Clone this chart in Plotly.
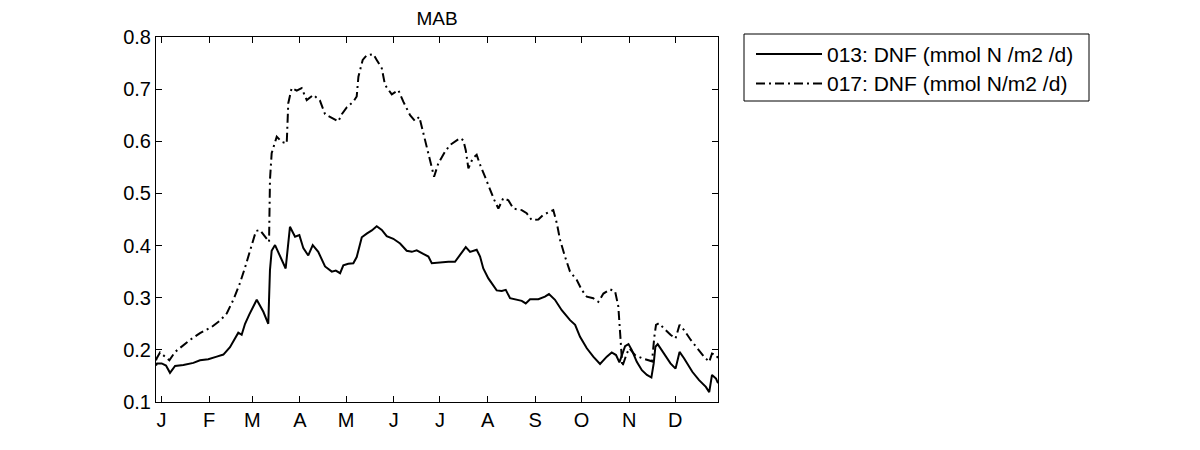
import plotly.graph_objects as go

# ---- data (day of year, value) ----
day_013 = [-2.6, -1.9, 1.1, 3.9, 6.5, 9.8, 15.2, 21.7, 26.0, 31.4, 36.9, 41.2, 45.5, 48.8, 50.9,
           53.1, 55.3, 58.1, 62.9, 67.2, 70.4, 71.5, 72.6, 74.8, 78.0, 81.7, 84.5, 87.8, 90.6,
           93.2, 96.4, 99.3, 102.9, 107.3, 111.7, 114.3, 117.1, 119.2, 122.4, 125.7, 127.9,
           131.2, 134.4, 137.7, 140.9, 144.2, 147.4, 151.7, 156.1, 160.4, 163.7, 166.9, 171.2,
           174.5, 176.7, 179.9, 183.2, 187.5, 191.8, 195.1, 198.8, 201.6, 205.9, 208.1, 210.2,
           213.5, 216.7, 218.9, 222.2, 224.8, 227.6, 231.9, 235.2, 237.8, 240.6, 246.0, 250.3,
           252.9, 256.8, 261.2, 266.6, 269.9, 273.1, 277.5, 281.7, 286.1, 290.5, 293.7, 296.5,
           298.7, 300.2, 302.4, 304.6, 306.7, 310.0, 313.3, 316.6, 319.5, 321.0, 322.1, 323.6,
           327.5, 331.9, 335.2, 337.8, 340.7, 346.1, 350.5, 354.9, 357.1, 358.9, 361.5, 362.8]
dnf_013 = [0.170, 0.174, 0.174, 0.170, 0.156, 0.169, 0.171, 0.175, 0.180, 0.182, 0.187, 0.191,
           0.205, 0.221, 0.233, 0.229, 0.250, 0.268, 0.296, 0.273, 0.250, 0.353, 0.390, 0.401,
           0.379, 0.356, 0.436, 0.417, 0.420, 0.395, 0.381, 0.401, 0.388, 0.360, 0.350, 0.352,
           0.347, 0.362, 0.365, 0.366, 0.378, 0.416, 0.423, 0.429, 0.437, 0.430, 0.418, 0.413,
           0.404, 0.390, 0.388, 0.391, 0.384, 0.379, 0.366, 0.367, 0.367, 0.369, 0.369, 0.382,
           0.397, 0.388, 0.392, 0.379, 0.356, 0.337, 0.323, 0.314, 0.313, 0.315, 0.299, 0.296,
           0.294, 0.289, 0.297, 0.297, 0.302, 0.307, 0.296, 0.276, 0.257, 0.248, 0.225, 0.203,
           0.187, 0.173, 0.187, 0.195, 0.190, 0.176, 0.190, 0.207, 0.211, 0.200, 0.177, 0.161,
           0.152, 0.147, 0.174, 0.206, 0.211, 0.193, 0.174, 0.164, 0.196, 0.184, 0.158, 0.142,
           0.129, 0.119, 0.152, 0.145, 0.136]

day_017 = [-2.6, -2.1, 0.0, 3.3, 6.1, 9.8, 14.1, 19.5, 26.0, 33.6, 39.0, 43.4, 47.7, 52.0, 55.3,
           59.6, 62.4, 65.0, 69.4, 70.9, 71.5, 72.6, 75.9, 79.1, 82.4, 83.4, 85.6, 88.9, 92.1,
           95.4, 99.7, 104.0, 107.3, 111.7, 115.9, 118.2, 121.4, 125.7, 127.9, 129.0, 131.8,
           134.4, 138.7, 140.9, 144.2, 146.3, 150.7, 155.0, 158.2, 162.6, 165.8, 168.6, 170.2,
           172.3, 174.5, 176.7, 178.2, 181.0, 185.3, 188.6, 191.8, 195.1, 197.2, 198.8, 200.5,
           203.3, 205.9, 208.1, 211.3, 214.6, 217.4, 220.0, 223.2, 226.5, 229.7, 235.2, 238.4,
           241.7, 246.0, 249.2, 252.5, 255.7, 258.0, 260.1, 263.3, 266.6, 271.0, 274.2, 277.5,
           281.7, 285.0, 288.3, 292.6, 295.9, 298.0, 298.7, 299.6, 300.6, 303.5, 305.2, 308.9,
           313.3, 317.7, 319.9, 321.4, 322.5, 324.3, 327.5, 331.9, 335.2, 337.8, 340.7, 345.1,
           349.4, 353.7, 357.1, 358.9, 361.5, 362.8]
dnf_017 = [0.180, 0.184, 0.195, 0.187, 0.180, 0.196, 0.206, 0.219, 0.232, 0.244, 0.256, 0.270,
           0.296, 0.328, 0.358, 0.398, 0.428, 0.430, 0.414, 0.407, 0.526, 0.577, 0.609, 0.599,
           0.596, 0.673, 0.702, 0.697, 0.702, 0.679, 0.689, 0.678, 0.652, 0.644, 0.638, 0.652,
           0.665, 0.676, 0.686, 0.724, 0.756, 0.765, 0.767, 0.756, 0.740, 0.708, 0.690, 0.698,
           0.676, 0.650, 0.639, 0.647, 0.628, 0.602, 0.577, 0.551, 0.532, 0.558, 0.580, 0.593,
           0.599, 0.606, 0.602, 0.583, 0.548, 0.567, 0.574, 0.555, 0.532, 0.507, 0.487, 0.471,
           0.491, 0.487, 0.471, 0.468, 0.462, 0.449, 0.450, 0.459, 0.463, 0.468, 0.443, 0.411,
           0.379, 0.350, 0.334, 0.315, 0.302, 0.299, 0.292, 0.308, 0.316, 0.312, 0.283, 0.257,
           0.213, 0.168, 0.193, 0.203, 0.190, 0.184, 0.180, 0.178, 0.225, 0.248, 0.251, 0.241,
           0.229, 0.222, 0.248, 0.238, 0.219, 0.203, 0.187, 0.177, 0.193, 0.190, 0.184]

month_days = [1, 32, 60, 91, 121, 152, 182, 213, 244, 274, 305, 335]
month_labels = ["J", "F", "M", "A", "M", "J", "J", "A", "S", "O", "N", "D"]
y_ticks = [0.1, 0.2, 0.3, 0.4, 0.5, 0.6, 0.7, 0.8]

name_013 = "013: DNF (mmol N /m2 /d)"
name_017 = "017: DNF (mmol N/m2 /d)"

FONT = "Liberation Sans, Arial, sans-serif"
DASHDOT = "9px,4px,2px,4px"

# page has an 8px body margin: figure drawn at (8, 8)
OFF = 8
FW, FH = 1200 - 2 * OFF, 450 - 2 * OFF
# plot area in screen pixels
L, R, T, B = 156, 718, 37, 402
W, H = R - L, B - T

fig = go.Figure()
fig.add_trace(go.Scatter(x=day_013, y=dnf_013, mode="lines", name=name_013,
                         line=dict(color="black", width=2), showlegend=False))
fig.add_trace(go.Scatter(x=day_017, y=dnf_017, mode="lines", name=name_017,
                         line=dict(color="black", width=2, dash=DASHDOT), showlegend=False))


def px(xp):
    return (xp - L) / W


def py(yp):
    return (B - yp) / H


# manual legend (MATLAB style)
fig.add_shape(type="rect", xref="paper", yref="paper",
              x0=px(744), x1=px(1089), y0=py(101), y1=py(34),
              line=dict(color="black", width=1), fillcolor="white")
for yy, dash, txt in [(54, "solid", name_013), (83.5, DASHDOT, name_017)]:
    fig.add_shape(type="line", xref="paper", yref="paper",
                  x0=px(756), x1=px(822), y0=py(yy), y1=py(yy),
                  line=dict(color="black", width=2, dash=dash))
    fig.add_annotation(xref="paper", yref="paper", x=px(825), y=py(yy),
                       xanchor="left", yanchor="middle", text=txt, showarrow=False,
                       font=dict(family=FONT, size=21, color="black"))

fig.update_layout(
    width=FW, height=FH,
    margin=dict(l=L - OFF, r=FW - (R - OFF), t=T - OFF, b=FH - (B - OFF), pad=0),
    paper_bgcolor="white", plot_bgcolor="white",
    font=dict(family=FONT, size=20, color="black"),
    title=dict(text="MAB", x=((L + R) / 2 - OFF) / FW, xanchor="center",
               y=1 - (18 - OFF) / FH, yanchor="middle",
               font=dict(family=FONT, size=19, color="black")),
    showlegend=False,
)
fig.update_xaxes(range=[-2.6, 362.8], tickvals=month_days, ticktext=month_labels,
                 ticks="inside", ticklen=6, tickwidth=1, tickcolor="black",
                 showline=True, linecolor="black", linewidth=1, mirror="ticks",
                 showgrid=False, zeroline=False,
                 tickfont=dict(family=FONT, size=20, color="black"))
fig.update_yaxes(range=[0.1, 0.8], tickvals=y_ticks, tickformat=".1f",
                 ticks="inside", ticklen=6, tickwidth=1, tickcolor="black",
                 showline=True, linecolor="black", linewidth=1, mirror="ticks",
                 showgrid=False, zeroline=False,
                 tickfont=dict(family=FONT, size=20, color="black"))

fig.write_html("out.html")
